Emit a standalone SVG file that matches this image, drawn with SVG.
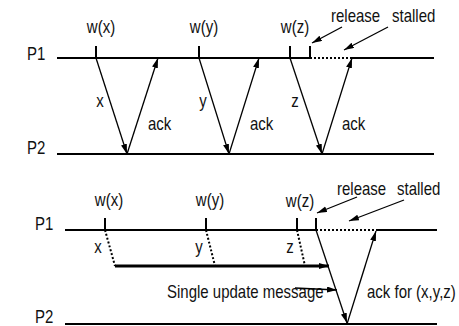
<svg xmlns="http://www.w3.org/2000/svg" width="459" height="326" viewBox="0 0 459 326">
  <defs>
    <style>
      .t { font-family: "Liberation Sans", Arial, sans-serif; font-size: 15px; fill: #111;
           transform-box: fill-box; transform-origin: center; transform: scaleY(1.2); }
      .m { text-anchor: middle; }
      .proc { stroke: #000; stroke-width: 2; fill: none; }
      .tick { stroke: #000; stroke-width: 2; }
      .dot { stroke: #000; stroke-width: 2; stroke-dasharray: 2 2; fill: none; }
      .msg { stroke: #000; stroke-width: 1.3; fill: none; marker-end: url(#head); }
      .bulk { stroke: #000; stroke-width: 3; fill: none; marker-end: url(#head); }
    </style>
    <marker id="head" markerUnits="userSpaceOnUse" markerWidth="11" markerHeight="7" refX="10" refY="3" orient="auto">
      <path d="M0,0 L10,3 L0,6 z" fill="#000"/>
    </marker>
  </defs>
  <rect width="459" height="326" fill="#fff"/>

  <!-- Upper scenario: one write, one ack -->
  <g id="p1-top">
    <text class="t" x="27" y="59">P1</text>
    <line class="proc" x1="57" y1="58" x2="310" y2="58"/>
    <line class="dot" x1="310" y1="58" x2="352" y2="58"/>
    <line class="proc" x1="352" y1="58" x2="434" y2="58"/>
  </g>
  <g id="p2-top">
    <text class="t" x="27" y="153">P2</text>
    <line class="proc" x1="57" y1="154" x2="434" y2="154"/>
  </g>
  <g id="writes-top">
    <line class="tick" x1="96" y1="46" x2="96" y2="58"/>
    <text class="t m" x="101" y="32">w(x)</text>
    <line class="tick" x1="199" y1="46" x2="199" y2="58"/>
    <text class="t m" x="204" y="32">w(y)</text>
    <line class="tick" x1="290" y1="46" x2="290" y2="58"/>
    <text class="t m" x="295" y="32">w(z)</text>
    <line class="tick" x1="310" y1="46" x2="310" y2="58"/>
  </g>
  <g id="notes-top">
    <text class="t" x="331" y="21">release</text>
    <text class="t" x="392" y="21">stalled</text>
  </g>
  <g id="connectors-top">
    <line class="msg" x1="96" y1="58" x2="127" y2="154"/>
    <line class="msg" x1="127" y1="154" x2="158" y2="58"/>
    <line class="msg" x1="199" y1="58" x2="229" y2="154"/>
    <line class="msg" x1="229" y1="154" x2="259" y2="58"/>
    <line class="msg" x1="290" y1="58" x2="322" y2="154"/>
    <line class="msg" x1="322" y1="154" x2="352" y2="58"/>
    <line class="msg" x1="342" y1="27" x2="312" y2="43"/>
    <line class="msg" x1="388" y1="27" x2="344" y2="50"/>
    <text class="t m" x="100" y="106">x</text>
    <text class="t m" x="203" y="106">y</text>
    <text class="t m" x="295" y="106">z</text>
    <text class="t" x="148" y="129">ack</text>
    <text class="t" x="250" y="129">ack</text>
    <text class="t" x="342" y="129">ack</text>
  </g>

  <!-- Lower scenario: writes batched into one update -->
  <g id="p1-bottom">
    <text class="t" x="35" y="229">P1</text>
    <line class="proc" x1="65" y1="230" x2="316" y2="230"/>
    <line class="dot" x1="316" y1="230" x2="376" y2="230"/>
    <line class="proc" x1="376" y1="230" x2="437" y2="230"/>
  </g>
  <g id="p2-bottom">
    <text class="t" x="35" y="322">P2</text>
    <line class="proc" x1="65" y1="324" x2="437" y2="324"/>
  </g>
  <g id="writes-bottom">
    <line class="tick" x1="105" y1="218" x2="105" y2="230"/>
    <text class="t m" x="109" y="205">w(x)</text>
    <line class="tick" x1="206" y1="218" x2="206" y2="230"/>
    <text class="t m" x="210" y="205">w(y)</text>
    <line class="tick" x1="297" y1="218" x2="297" y2="230"/>
    <text class="t m" x="300" y="206">w(z)</text>
    <line class="tick" x1="316" y1="218" x2="316" y2="230"/>
  </g>
  <g id="notes-bottom">
    <text class="t" x="337" y="194">release</text>
    <text class="t" x="397" y="194">stalled</text>
    <text class="t" x="167" y="297">Single update message</text>
    <text class="t" x="367" y="297">ack for (x,y,z)</text>
  </g>
  <g id="connectors-bottom">
    <line class="dot" x1="105" y1="230" x2="115" y2="266"/>
    <line class="dot" x1="206" y1="230" x2="215" y2="266"/>
    <line class="dot" x1="297" y1="230" x2="305" y2="266"/>
    <line class="bulk" x1="115" y1="266" x2="329" y2="266"/>
    <line class="msg" x1="316" y1="230" x2="347" y2="323"/>
    <line class="msg" x1="347" y1="324" x2="376" y2="231"/>
    <line class="msg" x1="295" y1="288" x2="337" y2="290"/>
    <line class="msg" x1="357" y1="197" x2="317" y2="213"/>
    <line class="msg" x1="404" y1="200" x2="349" y2="221"/>
    <text class="t m" x="98" y="252">x</text>
    <text class="t m" x="199" y="252">y</text>
    <text class="t m" x="290" y="252">z</text>
  </g>
</svg>
